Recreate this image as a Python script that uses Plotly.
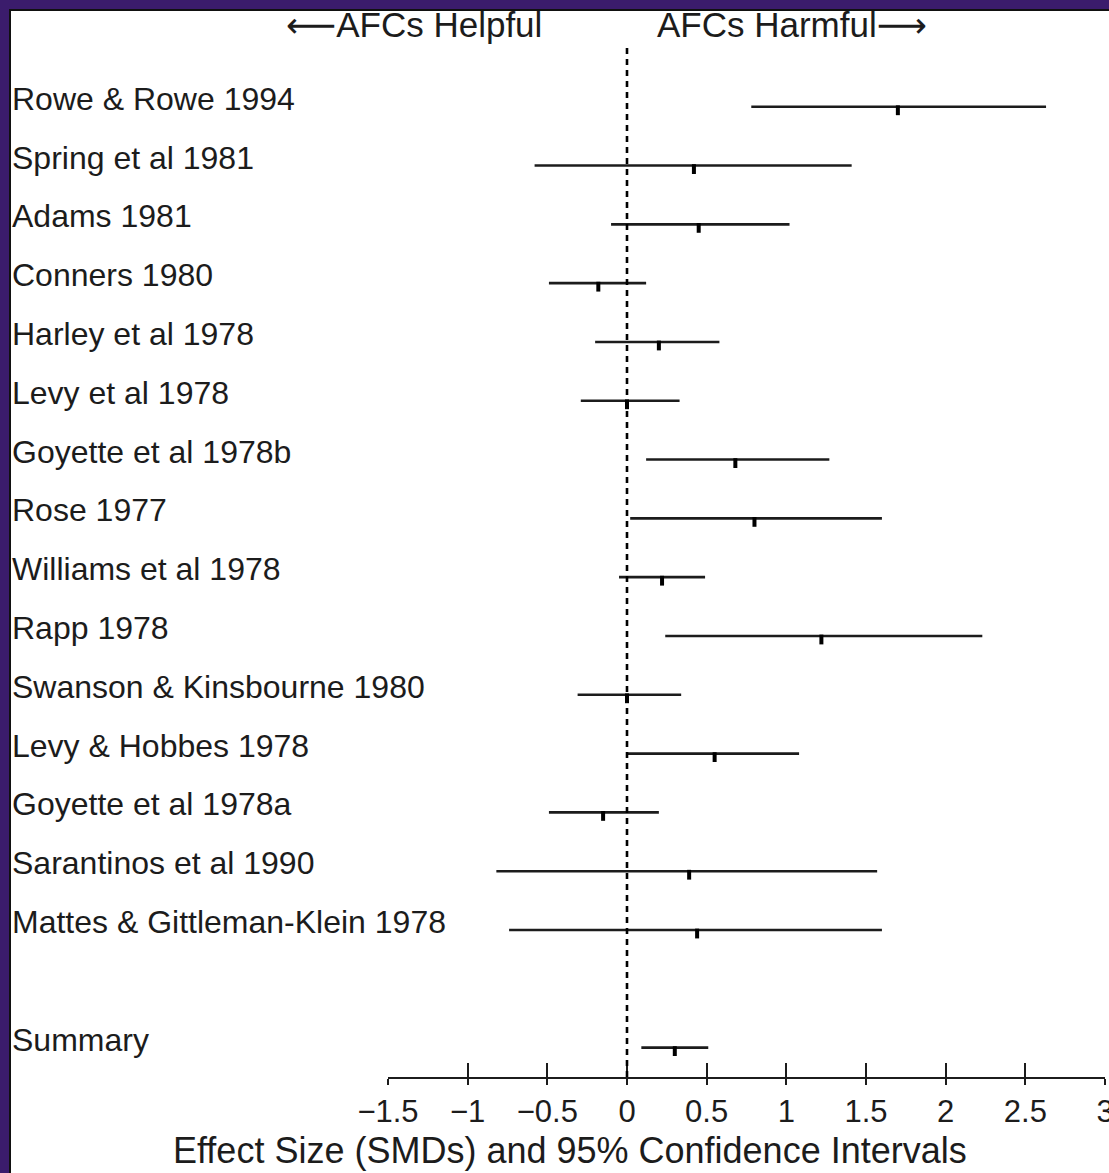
import plotly.graph_objects as go

# ---------------- data ----------------
studies = [
    "Rowe & Rowe 1994", "Spring et al 1981", "Adams 1981", "Conners 1980",
    "Harley et al 1978", "Levy et al 1978", "Goyette et al 1978b", "Rose 1977",
    "Williams et al 1978", "Rapp 1978", "Swanson & Kinsbourne 1980",
    "Levy & Hobbes 1978", "Goyette et al 1978a", "Sarantinos et al 1990",
    "Mattes & Gittleman-Klein 1978", "Summary",
]
rows = [0, 1, 2, 3, 4, 5, 6, 7, 8, 9, 10, 11, 12, 13, 14, 16]
effect = [1.70, 0.42, 0.45, -0.18, 0.20, 0.00, 0.68, 0.80, 0.22, 1.22, 0.00, 0.55, -0.15, 0.39, 0.44, 0.30]
lower = [0.78, -0.58, -0.10, -0.49, -0.20, -0.29, 0.12, 0.02, -0.05, 0.24, -0.31, 0.00, -0.49, -0.82, -0.74, 0.09]
upper = [2.63, 1.41, 1.02, 0.12, 0.58, 0.33, 1.27, 1.60, 0.49, 2.23, 0.34, 1.08, 0.20, 1.57, 1.60, 0.51]
tick_vals = [-1.5, -1, -0.5, 0, 0.5, 1, 1.5, 2, 2.5, 3]
tick_text = ["\u22121.5", "\u22121", "\u22120.5", "0", "0.5", "1", "1.5", "2", "2.5", "3"]
x_title = "Effect Size (SMDs) and 95% Confidence Intervals"
left_head = "\u27f5AFCs Helpful"
right_head = "AFCs Harmful\u27f6"

# ---------------- layout geometry ----------------
W, H = 1109, 1173
ML, MR, MT, MB = 388, 4, 45, 96
PW, PH = W - ML - MR, H - MT - MB
XR = [-1.5, 3.0]
YR = [16.5, -1.05]
FONT = "Liberation Sans, Arial, DejaVu Sans, sans-serif"
INK = "#1c1c1c"

def px_x(p):
    return (p - ML) / PW

def px_y(p):
    return 1 - (p - MT) / PH

fig = go.Figure()

# CI lines
cx, cy = [], []
for lo, hi, r in zip(lower, upper, rows):
    cx += [lo, hi, None]
    cy += [r, r, None]
fig.add_trace(go.Scatter(x=cx, y=cy, mode="lines",
                         line=dict(color=INK, width=2.6),
                         hoverinfo="skip", showlegend=False))
# point estimates (small ticks just below the line)
fig.add_trace(go.Scatter(x=effect, y=[r + 0.06 for r in rows], mode="markers",
                         marker=dict(symbol="line-ns", size=7,
                                     line=dict(color="#000", width=4)),
                         hoverinfo="skip", showlegend=False))
# invisible trace for the overlay axis
fig.add_trace(go.Scatter(x=[XR[0]], y=[rows[0]], xaxis="x2", mode="markers",
                         marker=dict(opacity=0), hoverinfo="skip", showlegend=False))

# frame: purple slide background with white panel
fig.add_shape(type="rect", xref="paper", yref="paper",
              x0=px_x(10), x1=px_x(W + 20), y0=px_y(H + 20), y1=px_y(10),
              fillcolor="white", line=dict(color="#111", width=2), layer="below")
# null line
fig.add_shape(type="line", xref="x", yref="paper", x0=0, x1=0, y0=0, y1=1,
              line=dict(color="#000", width=2.6, dash="6px,5px"))

# study labels
for name, r in zip(studies, rows):
    fig.add_annotation(x=px_x(10), xref="paper", y=r, yref="y",
                       text=name, showarrow=False, xanchor="left",
                       yanchor="middle", yshift=8,
                       font=dict(family=FONT, size=32, color=INK))
# header labels
fig.add_annotation(x=px_x(414), y=px_y(25), xref="paper", yref="paper",
                   text=left_head, showarrow=False, xanchor="center", yanchor="middle",
                   font=dict(family=FONT, size=35, color=INK))
fig.add_annotation(x=px_x(792), y=px_y(25), xref="paper", yref="paper",
                   text=right_head, showarrow=False, xanchor="center", yanchor="middle",
                   font=dict(family=FONT, size=35, color=INK))
# x title
fig.add_annotation(x=px_x(570), y=px_y(1150), xref="paper", yref="paper",
                   text=x_title, showarrow=False, xanchor="center", yanchor="middle",
                   font=dict(family=FONT, size=36, color=INK))

fig.update_layout(
    width=W, height=H,
    margin=dict(l=ML, r=MR, t=MT, b=MB, pad=0, autoexpand=False),
    paper_bgcolor="#3b1c6c", plot_bgcolor="rgba(0,0,0,0)",
    showlegend=False,
    xaxis=dict(range=XR, tickvals=tick_vals, ticktext=tick_text,
               showgrid=False, zeroline=False, showline=True, automargin=False,
               linecolor=INK, linewidth=2.2, ticks="outside", ticklen=6,
               tickwidth=2.2, tickcolor=INK, ticklabeloverflow="allow",
               tickfont=dict(family=FONT, size=31, color=INK)),
    xaxis2=dict(range=XR, tickvals=tick_vals, overlaying="x", anchor="y", side="bottom",
                showgrid=False, zeroline=False, showline=False, automargin=False,
                ticks="inside", ticklen=14, tickwidth=2.2, tickcolor=INK,
                showticklabels=False),
    yaxis=dict(range=YR, visible=False, automargin=False),
)

fig.write_html("out.html")
